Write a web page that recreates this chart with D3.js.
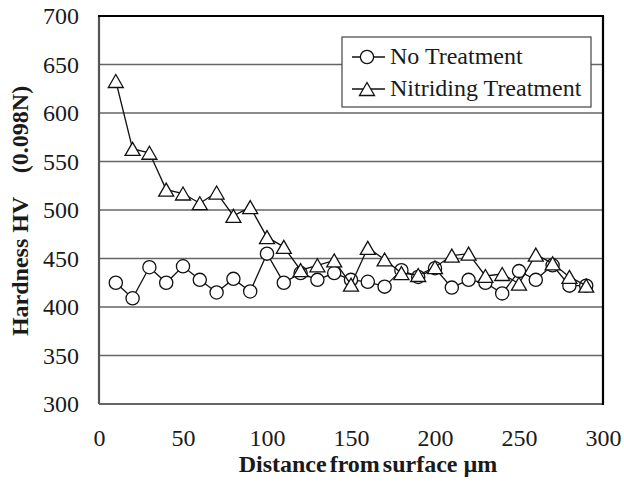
<!DOCTYPE html>
<html>
<head>
<meta charset="utf-8">
<script src="https://cdn.jsdelivr.net/npm/d3@7"></script>
<style>
  body { margin: 0; background: #fff; }
</style>
</head>
<body>
<div id="chart"></div>
<script>
// Distance from surface (µm)
const distances = [10, 20, 30, 40, 50, 60, 70, 80, 90, 100, 110, 120, 130, 140, 150,
    160, 170, 180, 190, 200, 210, 220, 230, 240, 250, 260, 270, 280, 290];

// Hardness values
const noTreatment = [425, 409, 441, 425, 442, 428, 415, 429, 416, 455, 425, 435, 428, 435, 428,
    426, 421, 438, 431, 440, 420, 428, 425, 414, 437, 428, 443, 422, 422];
const nitriding = [633, 563, 559, 521, 517, 507, 518, 494, 503, 472, 462, 438, 443, 448, 423,
    461, 449, 435, 433, 441, 453, 455, 432, 434, 424, 454, 445, 431, 422];

const xTicks = [0, 50, 100, 150, 200, 250, 300];
const yTicks = [300, 350, 400, 450, 500, 550, 600, 650, 700];

const seriesNames = ["No Treatment", "Nitriding Treatment"];

const FONT = '"Liberation Serif", serif';
const TEXT_COLOR = "#1a1a1a";

// Set up chart dimensions
const W = 624, H = 483;
const margin = { top: 16, right: 21, bottom: 79, left: 99 };
const width = W - margin.left - margin.right;
const height = H - margin.top - margin.bottom;

const svg = d3.select("#chart")
    .append("svg")
    .attr("width", W)
    .attr("height", H);

const g = svg.append("g")
    .attr("transform", `translate(${margin.left},${margin.top})`);

const x = d3.scaleLinear().domain([0, 300]).range([0, width]);
const y = d3.scaleLinear().domain([300, 700]).range([height, 0]);

// Horizontal gridlines
g.selectAll(".grid")
    .data(yTicks.slice(1, -1))
    .enter()
    .append("line")
    .attr("x1", 0)
    .attr("x2", width)
    .attr("y1", (d) => y(d))
    .attr("y2", (d) => y(d))
    .attr("stroke", "#666")
    .attr("stroke-width", 1.5);

// Y axis tick labels
const yAxis = g.append("g")
    .call(d3.axisLeft(y).tickValues(yTicks).tickSize(0).tickPadding(20).tickFormat(d3.format("d")));
yAxis.select(".domain").remove();
yAxis.selectAll("text")
    .attr("font-family", FONT)
    .attr("font-size", 24)
    .attr("fill", TEXT_COLOR)
    .attr("dy", "0.33em");

// X axis tick labels
const xAxis = g.append("g")
    .attr("transform", `translate(0,${height})`)
    .call(d3.axisBottom(x).tickValues(xTicks).tickSize(0).tickPadding(25).tickFormat(d3.format("d")));
xAxis.select(".domain").remove();
xAxis.selectAll("text")
    .attr("font-family", FONT)
    .attr("font-size", 24)
    .attr("fill", TEXT_COLOR);

// Plot frame: grey left/bottom, black top/right
g.append("line").attr("x1", 0).attr("x2", 0).attr("y1", 0).attr("y2", height)
    .attr("stroke", "#555").attr("stroke-width", 2.2);
g.append("line").attr("x1", 0).attr("x2", width).attr("y1", height).attr("y2", height)
    .attr("stroke", "#666").attr("stroke-width", 2.2);
g.append("line").attr("x1", -1).attr("x2", width + 1).attr("y1", 0).attr("y2", 0)
    .attr("stroke", "#000").attr("stroke-width", 2.2);
g.append("line").attr("x1", width).attr("x2", width).attr("y1", 0).attr("y2", height + 1)
    .attr("stroke", "#000").attr("stroke-width", 2.2);

// Triangle marker centred on its bounding box (like the spreadsheet marker)
const boxTriangle = {
    draw(context, size) {
        const s = Math.sqrt(size);
        const h = s * Math.sqrt(3) / 2;
        context.moveTo(0, -h / 2);
        context.lineTo(s / 2, h / 2);
        context.lineTo(-s / 2, h / 2);
        context.closePath();
    }
};
const triSym = d3.symbol().type(boxTriangle).size(15 * 15);
const circleR = 6.6;

const line = d3.line()
    .x((d) => x(d[0]))
    .y((d) => y(d[1]));

const noData = distances.map((d, i) => [d, noTreatment[i]]);
const niData = distances.map((d, i) => [d, nitriding[i]]);

function drawSeries(data, marker) {
    const sg = g.append("g");
    sg.append("path")
        .datum(data)
        .attr("d", line)
        .attr("fill", "none")
        .attr("stroke", "#111")
        .attr("stroke-width", 1.3);
    if (marker === "circle") {
        sg.selectAll("circle")
            .data(data)
            .enter()
            .append("circle")
            .attr("cx", (d) => x(d[0]))
            .attr("cy", (d) => y(d[1]))
            .attr("r", circleR)
            .attr("fill", "#fff")
            .attr("stroke", "#111")
            .attr("stroke-width", 1.3);
    } else {
        sg.selectAll("path.tri")
            .data(data)
            .enter()
            .append("path")
            .attr("class", "tri")
            .attr("transform", (d) => `translate(${x(d[0])},${y(d[1])})`)
            .attr("d", triSym)
            .attr("fill", "#fff")
            .attr("stroke", "#111")
            .attr("stroke-width", 1.3);
    }
}

drawSeries(noData, "circle");
drawSeries(niData, "triangle");

// Legend
const legend = svg.append("g").attr("transform", "translate(342,37)");
legend.append("rect")
    .attr("width", 249)
    .attr("height", 70)
    .attr("fill", "#fff")
    .attr("stroke", "#444")
    .attr("stroke-width", 1.2);

seriesNames.forEach((name, i) => {
    const cy = 20 + i * 32;
    const row = legend.append("g").attr("transform", `translate(0,${cy})`);
    row.append("line")
        .attr("x1", 10).attr("x2", 43)
        .attr("stroke", "#111").attr("stroke-width", 1.3);
    if (i === 0) {
        row.append("circle").attr("cx", 25).attr("r", circleR)
            .attr("fill", "#fff").attr("stroke", "#111").attr("stroke-width", 1.3);
    } else {
        row.append("path").attr("transform", "translate(25,0)").attr("d", triSym)
            .attr("fill", "#fff").attr("stroke", "#111").attr("stroke-width", 1.3);
    }
    row.append("text")
        .attr("x", 48)
        .attr("y", 7)
        .attr("font-family", FONT)
        .attr("font-size", 24)
        .attr("fill", TEXT_COLOR)
        .text(name);
});

// Axis titles
svg.append("text")
    .attr("x", 368)
    .attr("y", 472)
    .attr("text-anchor", "middle")
    .attr("font-family", FONT)
    .attr("font-size", 24)
    .attr("font-weight", "bold")
    .attr("fill", TEXT_COLOR)
    .style("white-space", "pre")
    .style("word-spacing", "-3px")
    .text("Distance from surface  \u00b5m");

svg.append("text")
    .attr("transform", "translate(28,211) rotate(-90)")
    .attr("text-anchor", "middle")
    .attr("font-family", FONT)
    .attr("font-size", 24)
    .attr("font-weight", "bold")
    .attr("fill", TEXT_COLOR)
    .style("white-space", "pre")
    .text("Hardness HV    (0.098N)");
</script>
</body>
</html>
